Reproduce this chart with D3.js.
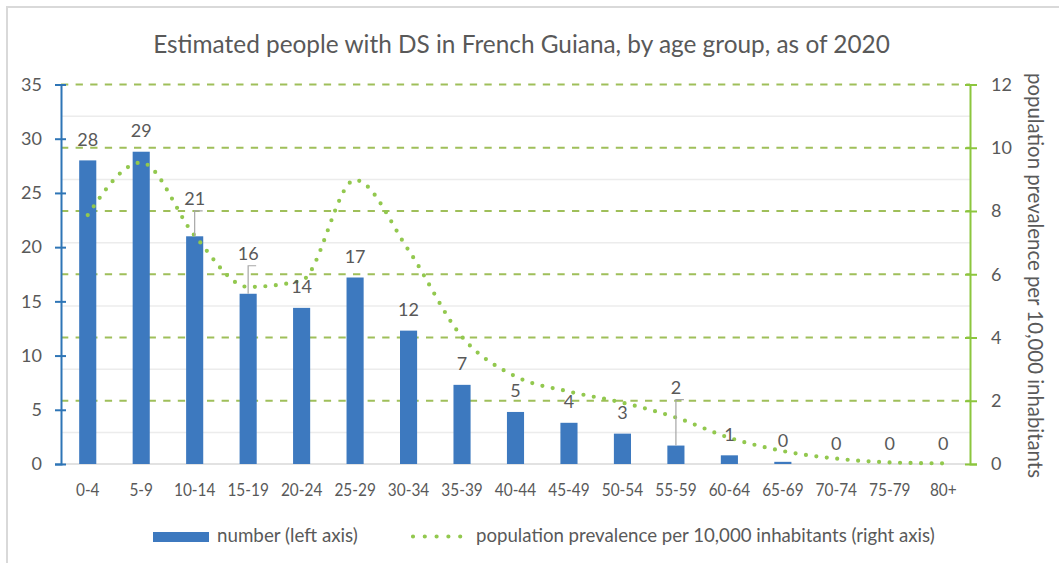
<!DOCTYPE html>
<html><head><meta charset="utf-8">
<script src="https://cdn.jsdelivr.net/npm/d3@7"></script>
<style>
body{margin:0;background:#fff}
svg{display:block}
text{font-family:Lato,"Open Sans",sans-serif;fill:#595959}
</style>
</head><body>
<svg id="chart" width="1059" height="563"></svg>
<script>
// ---------- data ----------
const ageGroups = ["0-4","5-9","10-14","15-19","20-24","25-29","30-34","35-39","40-44","45-49","50-54","55-59","60-64","65-69","70-74","75-79","80+"];
const peopleCount = [28.0, 28.8, 21.0, 15.7, 14.4, 17.2, 12.3, 7.3, 4.8, 3.8, 2.8, 1.7, 0.8, 0.2, 0, 0, 0];
const prevalencePer10k = [7.87, 9.53, 7.22, 5.6, 5.8, 8.98, 6.76, 4.02, 2.77, 2.29, 1.94, 1.47, 0.83, 0.41, 0.17, 0.05, 0.02];
const leftTicks = [0, 5, 10, 15, 20, 25, 30, 35];
const rightTicks = [0, 2, 4, 6, 8, 10, 12];
const rightMinorTicks = [1, 3, 5, 7, 9, 11];
const titleText = "Estimated people with DS in French Guiana, by age group, as of 2020";
const rightAxisTitle = "population prevalence per 10,000 inhabitants";
const legendBarText = "number (left axis)";
const legendLineText = "population prevalence per 10,000 inhabitants (right axis)";

// ---------- layout ----------
const svg = d3.select("#chart");
const W = 1059, H = 563;
const pLeft = 61, pRight = 970, pTop = 84.5, pBottom = 464;
const BLUE = "#3d79bf", AXBLUE = "#2e75b6", GREEN_DASH = "#9fbf5a", GREEN_DOT = "#92c84e", GREEN_AX = "#8cc63e";

svg.append("rect").attr("width", W).attr("height", H).attr("fill", "#fff");
svg.append("path").attr("d", `M7,${H} V7 H${W}`).attr("fill", "none").attr("stroke", "#d9d9d9").attr("stroke-width", 2);

const x = d3.scaleBand().domain(ageGroups).range([pLeft, pRight]).paddingInner(0.68).paddingOuter(0.34);
const yL = d3.scaleLinear().domain([0, 35]).range([pBottom, pTop]);
const yR = d3.scaleLinear().domain([0, 12]).range([pBottom, pTop]);

function fit(sel, target) {
  const base = 20;
  sel.style("font-size", base + "px");
  const len = sel.node().getComputedTextLength();
  sel.style("font-size", (base * target / len) + "px");
}

// title
const title = svg.append("text").attr("x", 521.5).attr("y", 52.5).attr("text-anchor", "middle").text(titleText);
fit(title, 737);

// light gray gridlines (right-axis odd values)
svg.append("g").selectAll("line").data(rightMinorTicks).join("line")
  .attr("x1", pLeft).attr("x2", pRight)
  .attr("y1", d => yR(d)).attr("y2", d => yR(d))
  .attr("stroke", "#ececec").attr("stroke-width", 1.5);

// green dashed gridlines (right axis major)
svg.append("g").selectAll("line").data(rightTicks.filter(d => d > 0)).join("line")
  .attr("x1", pLeft).attr("x2", pRight)
  .attr("y1", d => yR(d)).attr("y2", d => yR(d))
  .attr("stroke", GREEN_DASH).attr("stroke-width", 2).attr("stroke-dasharray", "7.3 7.3");

// category baseline
svg.append("line").attr("x1", pLeft).attr("x2", pRight).attr("y1", pBottom).attr("y2", pBottom)
  .attr("stroke", "#d9d9d9").attr("stroke-width", 1.5);

// bars
svg.append("g").selectAll("rect").data(ageGroups).join("rect")
  .attr("x", d => x(d)).attr("width", x.bandwidth())
  .attr("y", (d, i) => yL(peopleCount[i]))
  .attr("height", (d, i) => pBottom - yL(peopleCount[i]))
  .attr("fill", BLUE);

// prevalence line
const line = d3.line()
  .x((d, i) => x(ageGroups[i]) + x.bandwidth() / 2)
  .y(d => yR(d))
  .curve(d3.curveMonotoneX);
svg.append("path").datum(prevalencePer10k).attr("d", line)
  .attr("fill", "none").attr("stroke", GREEN_DOT).attr("stroke-width", 4.2)
  .attr("stroke-linecap", "round").attr("stroke-dasharray", "0 10.5");

// data labels
const extraLift = {"10-14": 17, "15-19": 19.5, "55-59": 37.5};
const fmt = d3.format(".0f");
const lbl = svg.append("g");
ageGroups.forEach((g, i) => {
  const cx = x(g) + x.bandwidth() / 2;
  const barTop = yL(peopleCount[i]);
  const lift = 14.5 + (extraLift[g] || 0);
  const by = barTop - lift;
  lbl.append("text").attr("x", cx).attr("y", by).attr("text-anchor", "middle")
    .style("font-size", "18px").text(fmt(peopleCount[i]));
  if (extraLift[g]) {
    lbl.append("path").attr("d", `M${cx + 8},${by + 6} H${cx} V${barTop}`)
      .attr("fill", "none").attr("stroke", "#a6a6a6").attr("stroke-width", 1.2);
  }
});

// left axis
const gL = svg.append("g").attr("transform", `translate(${pLeft},0)`)
  .call(d3.axisLeft(yL).tickValues(leftTicks).tickSize(6).tickPadding(13));
gL.select(".domain").attr("stroke", AXBLUE).attr("stroke-width", 2);
gL.selectAll(".tick line").attr("stroke", AXBLUE).attr("stroke-width", 2);
gL.selectAll(".tick text").style("font-size", "18px").style("font-family", "Lato").attr("fill", "#595959");
const gL2 = svg.append("g").attr("transform", `translate(${pLeft},0)`)
  .call(d3.axisRight(yL).tickValues(leftTicks).tickSize(5).tickFormat(""));
gL2.select(".domain").remove();
gL2.selectAll(".tick line").attr("stroke", AXBLUE).attr("stroke-width", 2);

// right axis
const gR = svg.append("g").attr("transform", `translate(${pRight},0)`)
  .call(d3.axisRight(yR).tickValues(rightTicks).tickSize(7).tickPadding(14));
gR.select(".domain").attr("stroke", GREEN_AX).attr("stroke-width", 2);
gR.selectAll(".tick line").attr("stroke", GREEN_AX).attr("stroke-width", 2);
gR.selectAll(".tick text").style("font-size", "18px").style("font-family", "Lato").attr("fill", "#595959");
const gR2 = svg.append("g").attr("transform", `translate(${pRight},0)`)
  .call(d3.axisLeft(yR).tickValues(rightTicks).tickSize(5).tickFormat(""));
gR2.select(".domain").remove();
gR2.selectAll(".tick line").attr("stroke", GREEN_AX).attr("stroke-width", 2);

// x axis labels
const gX = svg.append("g").attr("transform", `translate(0,${pBottom})`)
  .call(d3.axisBottom(x).tickSize(0).tickPadding(20));
gX.select(".domain").remove();
gX.selectAll(".tick text").style("font-size", "17.5px").style("font-family", "Lato")
  .attr("fill", "#595959").attr("transform", "scale(0.88,1)");

// right axis title
const rt = svg.append("text").attr("text-anchor", "middle")
  .attr("transform", "translate(1028,275.5) rotate(90)").text(rightAxisTitle);
fit(rt, 405);

// legend
svg.append("rect").attr("x", 153).attr("y", 532).attr("width", 56).attr("height", 10).attr("fill", BLUE);
const l1 = svg.append("text").attr("x", 217).attr("y", 542).text(legendBarText);
fit(l1, 141);
svg.append("line").attr("x1", 413).attr("x2", 472).attr("y1", 536.5).attr("y2", 536.5)
  .attr("stroke", GREEN_DOT).attr("stroke-width", 4.2).attr("stroke-linecap", "round").attr("stroke-dasharray", "0 11.8");
const l2 = svg.append("text").attr("x", 476).attr("y", 542).text(legendLineText);
fit(l2, 459);
</script>
</body></html>
